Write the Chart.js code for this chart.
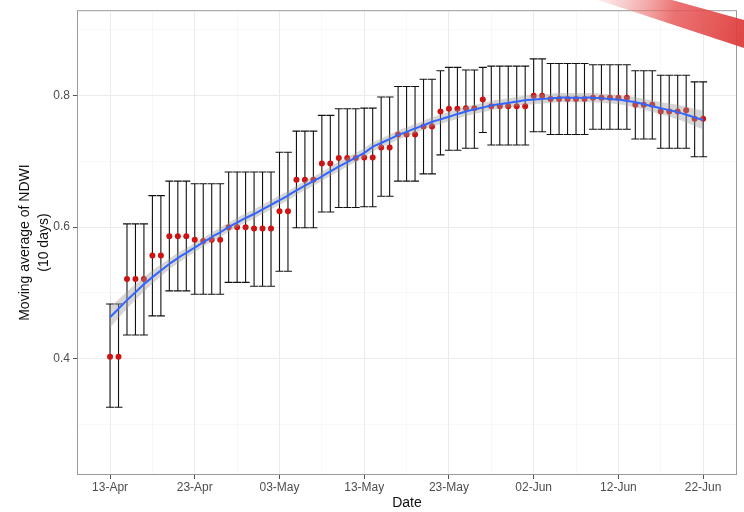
<!DOCTYPE html>
<html>
<head>
<meta charset="utf-8">
<script src="https://cdn.jsdelivr.net/npm/chart.js@4.4.0/dist/chart.umd.min.js"></script>
<style>
  html, body { margin: 0; padding: 0; background: #fff; }
  #wrap { width: 744px; height: 512px; position: relative; }
</style>
</head>
<body>
<div id="wrap"><canvas id="ndwiChart" width="744" height="512"></canvas></div>
<script>
// ====================== Data ======================
// day index 0 = 13-Apr, 70 = 22-Jun
const tickValues = [0, 10, 20, 30, 40, 50, 60, 70];
const tickLabels = ['13-Apr', '23-Apr', '03-May', '13-May', '23-May', '02-Jun', '12-Jun', '22-Jun'];
const yTickValues = [0.4, 0.6, 0.8];

const ndwiMean = [
  0.403, 0.403, 0.521, 0.521, 0.521, 0.557, 0.557, 0.586, 0.586, 0.586,
  0.581, 0.579, 0.581, 0.581, 0.600, 0.600, 0.600, 0.598, 0.598, 0.598,
  0.624, 0.624, 0.672, 0.672, 0.672, 0.697, 0.697, 0.705, 0.705, 0.705,
  0.706, 0.706, 0.721, 0.721, 0.741, 0.741, 0.741, 0.753, 0.753, 0.776,
  0.780, 0.780, 0.781, 0.781, 0.794, 0.784, 0.784, 0.784, 0.784, 0.784,
  0.800, 0.800, 0.795, 0.795, 0.795, 0.795, 0.795, 0.797, 0.797, 0.797,
  0.797, 0.797, 0.786, 0.786, 0.786, 0.776, 0.776, 0.776, 0.778, 0.765,
  0.765
];
const ndwiLow = [
  0.326, 0.326, 0.436, 0.436, 0.436, 0.465, 0.465, 0.503, 0.503, 0.503,
  0.498, 0.498, 0.498, 0.498, 0.516, 0.516, 0.516, 0.510, 0.510, 0.510,
  0.533, 0.533, 0.599, 0.599, 0.599, 0.623, 0.623, 0.630, 0.630, 0.630,
  0.631, 0.631, 0.647, 0.647, 0.670, 0.670, 0.670, 0.681, 0.681, 0.710,
  0.717, 0.717, 0.720, 0.720, 0.744, 0.725, 0.725, 0.725, 0.725, 0.725,
  0.745, 0.745, 0.741, 0.741, 0.741, 0.741, 0.741, 0.749, 0.749, 0.749,
  0.749, 0.749, 0.734, 0.734, 0.734, 0.720, 0.720, 0.720, 0.720, 0.707,
  0.707
];
const ndwiHigh = [
  0.483, 0.483, 0.605, 0.605, 0.605, 0.648, 0.648, 0.670, 0.670, 0.670,
  0.666, 0.666, 0.666, 0.666, 0.684, 0.684, 0.684, 0.684, 0.684, 0.684,
  0.714, 0.714, 0.746, 0.746, 0.746, 0.770, 0.770, 0.780, 0.780, 0.780,
  0.781, 0.781, 0.798, 0.798, 0.814, 0.814, 0.814, 0.825, 0.825, 0.838,
  0.843, 0.843, 0.839, 0.839, 0.843, 0.845, 0.845, 0.845, 0.845, 0.845,
  0.856, 0.856, 0.849, 0.849, 0.849, 0.849, 0.849, 0.847, 0.847, 0.847,
  0.847, 0.847, 0.838, 0.838, 0.838, 0.831, 0.831, 0.831, 0.831, 0.821,
  0.821
];
// loess fit (blue) and its standard error band (grey)
const smoothFit = [
  0.463, 0.476, 0.489, 0.501, 0.513, 0.524, 0.534, 0.544, 0.553, 0.561,
  0.569, 0.577, 0.585, 0.592, 0.600, 0.607, 0.614, 0.620, 0.627, 0.634,
  0.641, 0.648, 0.656, 0.663, 0.670, 0.677, 0.685, 0.692, 0.699, 0.706,
  0.713, 0.722, 0.728, 0.734, 0.740, 0.745, 0.750, 0.755, 0.760, 0.764,
  0.768, 0.772, 0.776, 0.779, 0.782, 0.785, 0.787, 0.789, 0.791, 0.793,
  0.794, 0.795, 0.796, 0.797, 0.797, 0.797, 0.797, 0.797, 0.796, 0.795,
  0.794, 0.792, 0.790, 0.787, 0.784, 0.781, 0.778, 0.775, 0.771, 0.767,
  0.763
];
const smoothSe = [
  0.016, 0.014, 0.013, 0.012, 0.011, 0.010, 0.009, 0.008, 0.008, 0.007,
  0.007, 0.007, 0.007, 0.007, 0.007, 0.007, 0.007, 0.007, 0.007, 0.007,
  0.007, 0.007, 0.007, 0.007, 0.007, 0.007, 0.007, 0.007, 0.007, 0.007,
  0.007, 0.007, 0.007, 0.007, 0.007, 0.007, 0.007, 0.007, 0.007, 0.007,
  0.007, 0.007, 0.007, 0.007, 0.007, 0.007, 0.007, 0.007, 0.007, 0.007,
  0.007, 0.007, 0.007, 0.007, 0.007, 0.007, 0.007, 0.007, 0.007, 0.007,
  0.007, 0.007, 0.008, 0.008, 0.009, 0.009, 0.010, 0.011, 0.012, 0.013,
  0.014
];

// ====================== Helpers ======================
const pts = arr => arr.map((v, i) => ({ x: i, y: v }));
const isMajorY = v => yTickValues.some(t => Math.abs(t - v) < 1e-6);

const errorBars = {
  id: 'errorBars',
  beforeDatasetsDraw(chart) {
    const { ctx, scales: { x, y } } = chart;
    ctx.save();
    ctx.strokeStyle = '#111';
    ctx.lineWidth = 1.1;
    ndwiMean.forEach((m, i) => {
      const px = x.getPixelForValue(i);
      const lo = y.getPixelForValue(ndwiLow[i]);
      const hi = y.getPixelForValue(ndwiHigh[i]);
      ctx.beginPath();
      ctx.moveTo(px, lo); ctx.lineTo(px, hi);
      ctx.moveTo(px - 4, lo); ctx.lineTo(px + 4, lo);
      ctx.moveTo(px - 4, hi); ctx.lineTo(px + 4, hi);
      ctx.stroke();
    });
    ctx.restore();
  }
};

const panelBorder = {
  id: 'panelBorder',
  afterDraw(chart) {
    const { ctx, chartArea: a } = chart;
    ctx.save();
    ctx.strokeStyle = '#9a9a9a';
    ctx.lineWidth = 1;
    ctx.strokeRect(a.left + 0.5, a.top + 0.5, a.right - a.left - 1, a.bottom - a.top - 1);
    // red page-curl ribbon in the corner
    const g = ctx.createLinearGradient(600, 0, 744, 40);
    g.addColorStop(0, 'rgba(240,150,150,0.2)');
    g.addColorStop(0.5, 'rgba(232,90,90,0.85)');
    g.addColorStop(1, 'rgba(222,60,60,0.95)');
    ctx.fillStyle = g;
    ctx.beginPath();
    ctx.moveTo(598, 0); ctx.lineTo(672, 0); ctx.lineTo(744, 20); ctx.lineTo(744, 48);
    ctx.closePath();
    ctx.fill();
    ctx.restore();
  }
};

// ====================== Chart ======================
const ctx = document.getElementById('ndwiChart').getContext('2d');
new Chart(ctx, {
  type: 'scatter',
  data: {
    datasets: [
      {
        label: 'fit',
        type: 'line',
        data: pts(smoothFit),
        borderColor: '#3366ff',
        borderWidth: 2,
        pointRadius: 0,
        fill: false,
        tension: 0.3,
        order: 0
      },
      {
        label: 'seLow',
        type: 'line',
        data: pts(smoothFit.map((v, i) => v - smoothSe[i])),
        borderWidth: 0,
        borderColor: 'rgba(0,0,0,0)',
        pointRadius: 0,
        fill: false,
        tension: 0.3,
        order: 1
      },
      {
        label: 'seHigh',
        type: 'line',
        data: pts(smoothFit.map((v, i) => v + smoothSe[i])),
        borderWidth: 0,
        borderColor: 'rgba(0,0,0,0)',
        backgroundColor: 'rgba(153,153,153,0.4)',
        pointRadius: 0,
        fill: '-1',
        tension: 0.3,
        order: 1
      },
      {
        label: 'NDWI',
        data: pts(ndwiMean),
        pointRadius: 3,
        pointBackgroundColor: '#cc1414',
        pointBorderWidth: 0,
        order: 2
      }
    ]
  },
  options: {
    responsive: false,
    animation: false,
    layout: { padding: { left: 0, right: 7, top: 8, bottom: 0 } },
    plugins: { legend: { display: false }, tooltip: { enabled: false } },
    scales: {
      x: {
        type: 'linear',
        min: -3.9,
        max: 74,
        afterBuildTicks: s => { s.ticks = [0, 5, 10, 15, 20, 25, 30, 35, 40, 45, 50, 55, 60, 65, 70].map(v => ({ value: v })); },
        afterFit: s => { s.height = 37; },
        grid: {
          color: c => (c.tick && c.tick.value % 10 === 0) ? '#ebebeb' : '#f3f3f3',
          lineWidth: c => (c.tick && c.tick.value % 10 === 0) ? 1 : 0.6,
          tickColor: c => (c.tick && c.tick.value % 10 === 0) ? '#555' : 'rgba(0,0,0,0)',
          tickLength: 4,
          drawTicks: true
        },
        border: { display: false },
        ticks: {
          autoSkip: false,
          maxRotation: 0,
          padding: 1,
          color: '#4d4d4d',
          font: { family: 'Liberation Sans', size: 12 },
          callback: v => { const k = tickValues.indexOf(v); return k >= 0 ? tickLabels[k] : ''; }
        },
        title: {
          display: true,
          text: 'Date',
          color: '#111',
          font: { family: 'Liberation Sans', size: 14 },
          padding: { top: 0, bottom: 0 }
        }
      },
      y: {
        min: 0.223,
        max: 0.93,
        afterBuildTicks: s => { s.ticks = [0.3, 0.4, 0.5, 0.6, 0.7, 0.8, 0.9].map(v => ({ value: v })); },
        afterFit: s => { s.width = 77; },
        grid: {
          color: c => (c.tick && isMajorY(c.tick.value)) ? '#ebebeb' : '#f3f3f3',
          lineWidth: c => (c.tick && isMajorY(c.tick.value)) ? 1 : 0.6,
          tickColor: c => (c.tick && isMajorY(c.tick.value)) ? '#555' : 'rgba(0,0,0,0)',
          tickLength: 4,
          drawTicks: true
        },
        border: { display: false },
        ticks: {
          padding: 3,
          color: '#4d4d4d',
          font: { family: 'Liberation Sans', size: 12 },
          callback: v => isMajorY(v) ? v.toFixed(1) : ''
        },
        title: {
          display: true,
          text: ['Moving average of NDWI', '(10 days)'],
          color: '#111',
          font: { family: 'Liberation Sans', size: 14, lineHeight: 1.35 },
          padding: { top: 16, bottom: 4 }
        }
      }
    }
  },
  plugins: [errorBars, panelBorder]
});
</script>
</body>
</html>
